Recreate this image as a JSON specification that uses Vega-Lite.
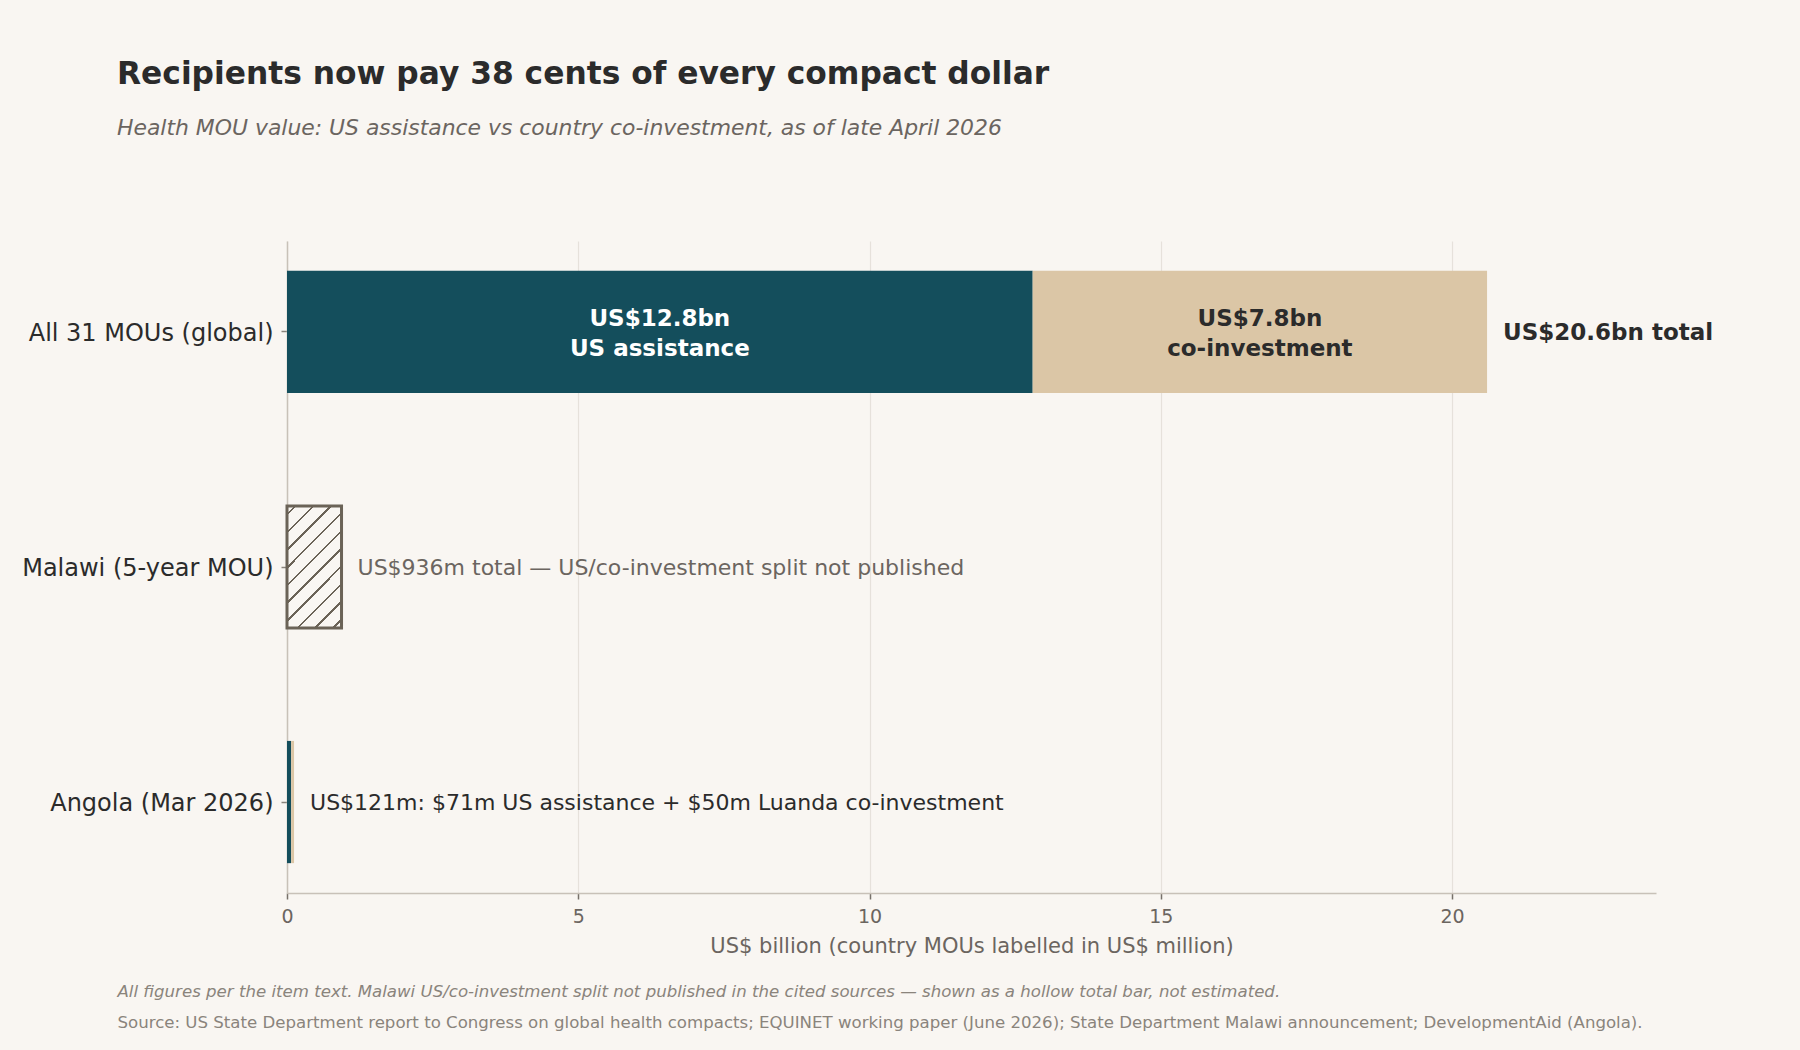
{
  "$schema": "https://vega.github.io/schema/vega-lite/v6.json",
  "width": 1369,
  "height": 652,
  "autosize": {"type": "none"},
  "padding": {"left": 287, "top": 241, "right": 144, "bottom": 157},
  "background": "#f9f6f2",
  "title": {
    "text": "Recipients now pay 38 cents of every compact dollar",
    "subtitle": "Health MOU value: US assistance vs country co-investment, as of late April 2026",
    "anchor": "start",
    "frame": "group",
    "dx": -170,
    "offset": 102,
    "font": "DejaVu Sans",
    "fontSize": 31.3,
    "fontWeight": "bold",
    "color": "#2b2b2b",
    "subtitleFont": "DejaVu Sans",
    "subtitleFontSize": 21.9,
    "subtitleFontStyle": "italic",
    "subtitleColor": "#6b6560",
    "subtitlePadding": 28
  },
  "datasets": {
    "parts": [
      {"row": "All 31 MOUs (global)", "part": "US assistance", "value": 12.8, "label": "US$12.8bn\nUS assistance"},
      {"row": "All 31 MOUs (global)", "part": "Co-investment", "value": 7.8, "label": "US$7.8bn\nco-investment"},
      {"row": "Angola (Mar 2026)", "part": "US assistance", "value": 0.071, "label": ""},
      {"row": "Angola (Mar 2026)", "part": "Co-investment", "value": 0.05, "label": ""}
    ],
    "totals": [
      {"row": "All 31 MOUs (global)", "total": 20.6, "note": "US$20.6bn total"},
      {"row": "Malawi (5-year MOU)", "total": 0.936, "note": "US$936m total — US/co-investment split not published"},
      {"row": "Angola (Mar 2026)", "total": 0.121, "note": "US$121m: $71m US assistance + $50m Luanda co-investment"}
    ]
  },
  "encoding": {
    "y": {
      "field": "row",
      "type": "nominal",
      "scale": {
        "domain": ["All 31 MOUs (global)", "Malawi (5-year MOU)", "Angola (Mar 2026)"],
        "paddingInner": 0.48,
        "paddingOuter": 0.127
      },
      "axis": {
        "title": null,
        "domainColor": "#c8c1b8",
        "domainWidth": 1.5,
        "tickColor": "#8a847c",
        "tickSize": 6,
        "tickWidth": 1.5,
        "labelFontSize": 24,
        "labelColor": "#2b2b2b",
        "labelPadding": 8,
        "labelOffset": 2,
        "labelLimit": 500,
        "grid": false
      }
    }
  },
  "layer": [
    {
      "data": {"name": "parts"},
      "mark": {"type": "bar"},
      "encoding": {
        "x": {
          "field": "value",
          "type": "quantitative",
          "stack": "zero",
          "scale": {"domain": [0, 23.5], "nice": false},
          "axis": {
            "values": [0, 5, 10, 15, 20],
            "title": "US$ billion (country MOUs labelled in US$ million)",
            "grid": true,
            "gridColor": "#e6e1db",
            "gridWidth": 1.2,
            "domainColor": "#c8c1b8",
            "domainWidth": 1.5,
            "tickColor": "#77716a",
            "tickSize": 6,
            "tickWidth": 1.5,
            "labelFontSize": 19,
            "labelColor": "#6b6560",
            "labelPadding": 8,
            "labelFlush": false,
            "titleFontSize": 21,
            "titleFontWeight": "normal",
            "titleColor": "#6b6560",
            "titlePadding": 9
          }
        },
        "order": {"field": "part", "sort": "descending"},
        "color": {
          "field": "part",
          "type": "nominal",
          "scale": {"domain": ["US assistance", "Co-investment"], "range": ["#144e5c", "#dbc6a6"]},
          "legend": null
        }
      }
    },
    {
      "data": {"name": "totals"},
      "transform": [{"filter": "datum.row === 'Malawi (5-year MOU)'"}],
      "mark": {
        "type": "bar",
        "stroke": "#6b6357",
        "strokeWidth": 3,
        "fill": {
          "gradient": "linear",
          "x1": 0, "y1": 0, "x2": 0.5387, "y2": 1.206,
          "stops": [
            {"offset": 0, "color": "#f9f6f2"},
            {"offset": 0.043, "color": "#f9f6f2"}, {"offset": 0.043, "color": "#6b6357"}, {"offset": 0.057, "color": "#6b6357"}, {"offset": 0.057, "color": "#f9f6f2"},
            {"offset": 0.143, "color": "#f9f6f2"}, {"offset": 0.143, "color": "#6b6357"}, {"offset": 0.157, "color": "#6b6357"}, {"offset": 0.157, "color": "#f9f6f2"},
            {"offset": 0.243, "color": "#f9f6f2"}, {"offset": 0.243, "color": "#6b6357"}, {"offset": 0.257, "color": "#6b6357"}, {"offset": 0.257, "color": "#f9f6f2"},
            {"offset": 0.343, "color": "#f9f6f2"}, {"offset": 0.343, "color": "#6b6357"}, {"offset": 0.357, "color": "#6b6357"}, {"offset": 0.357, "color": "#f9f6f2"},
            {"offset": 0.443, "color": "#f9f6f2"}, {"offset": 0.443, "color": "#6b6357"}, {"offset": 0.457, "color": "#6b6357"}, {"offset": 0.457, "color": "#f9f6f2"},
            {"offset": 0.543, "color": "#f9f6f2"}, {"offset": 0.543, "color": "#6b6357"}, {"offset": 0.557, "color": "#6b6357"}, {"offset": 0.557, "color": "#f9f6f2"},
            {"offset": 0.643, "color": "#f9f6f2"}, {"offset": 0.643, "color": "#6b6357"}, {"offset": 0.657, "color": "#6b6357"}, {"offset": 0.657, "color": "#f9f6f2"},
            {"offset": 0.743, "color": "#f9f6f2"}, {"offset": 0.743, "color": "#6b6357"}, {"offset": 0.757, "color": "#6b6357"}, {"offset": 0.757, "color": "#f9f6f2"},
            {"offset": 0.843, "color": "#f9f6f2"}, {"offset": 0.843, "color": "#6b6357"}, {"offset": 0.857, "color": "#6b6357"}, {"offset": 0.857, "color": "#f9f6f2"},
            {"offset": 0.943, "color": "#f9f6f2"}, {"offset": 0.943, "color": "#6b6357"}, {"offset": 0.957, "color": "#6b6357"}, {"offset": 0.957, "color": "#f9f6f2"},
            {"offset": 1, "color": "#f9f6f2"}
          ]
        }
      },
      "encoding": {
        "x": {"field": "total", "type": "quantitative", "axis": null}
      }
    },
    {
      "data": {"name": "parts"},
      "mark": {"type": "text", "fontSize": 23, "fontWeight": "bold", "lineHeight": 30, "lineBreak": "\n", "align": "center", "baseline": "middle", "dy": -13},
      "encoding": {
        "x": {"field": "value", "type": "quantitative", "stack": "zero", "bandPosition": 0.5, "axis": null},
        "order": {"field": "part", "sort": "descending"},
        "detail": {"field": "part"},
        "text": {"field": "label"},
        "fill": {
          "field": "part",
          "type": "nominal",
          "scale": {"domain": ["US assistance", "Co-investment"], "range": ["#ffffff", "#2b2b2b"]},
          "legend": null
        }
      }
    },
    {
      "data": {"name": "totals"},
      "transform": [{"filter": "datum.row === 'All 31 MOUs (global)'"}],
      "mark": {"type": "text", "align": "left", "baseline": "middle", "dx": 16, "dy": 1, "fontSize": 23, "fontWeight": "bold", "color": "#2b2b2b"},
      "encoding": {
        "x": {"field": "total", "type": "quantitative", "axis": null},
        "text": {"field": "note"}
      }
    },
    {
      "data": {"name": "totals"},
      "transform": [{"filter": "datum.row === 'Malawi (5-year MOU)'"}],
      "mark": {"type": "text", "align": "left", "baseline": "middle", "dx": 16, "dy": 1, "fontSize": 22, "color": "#6b6560"},
      "encoding": {
        "x": {
          "field": "total",
          "type": "quantitative",
          "axis": {
            "orient": "bottom",
            "domain": false,
            "ticks": false,
            "labels": false,
            "grid": false,
            "title": "All figures per the item text. Malawi US/co-investment split not published in the cited sources — shown as a hollow total bar, not estimated.",
            "titleX": -170,
            "titleY": 103,
            "titleAlign": "left",
            "titleAnchor": "start",
            "titleBaseline": "alphabetic",
            "titleFontSize": 16.6,
            "titleFontStyle": "italic",
            "titleFontWeight": "normal",
            "titleColor": "#8a847c"
          }
        },
        "text": {"field": "note"}
      }
    },
    {
      "data": {"name": "totals"},
      "transform": [{"filter": "datum.row === 'Angola (Mar 2026)'"}],
      "mark": {"type": "text", "align": "left", "baseline": "middle", "dx": 16, "dy": 1, "fontSize": 22, "color": "#2b2b2b"},
      "encoding": {
        "x": {
          "field": "total",
          "type": "quantitative",
          "axis": {
            "orient": "bottom",
            "domain": false,
            "ticks": false,
            "labels": false,
            "grid": false,
            "title": "Source: US State Department report to Congress on global health compacts; EQUINET working paper (June 2026); State Department Malawi announcement; DevelopmentAid (Angola).",
            "titleX": -170,
            "titleY": 134,
            "titleAlign": "left",
            "titleAnchor": "start",
            "titleBaseline": "alphabetic",
            "titleFontSize": 16.6,
            "titleFontWeight": "normal",
            "titleColor": "#8a847c"
          }
        },
        "text": {"field": "note"}
      }
    }
  ],
  "resolve": {"axis": {"x": "independent"}},
  "config": {
    "font": "DejaVu Sans",
    "view": {"stroke": null},
    "axis": {"labelFont": "DejaVu Sans", "titleFont": "DejaVu Sans"}
  }
}
